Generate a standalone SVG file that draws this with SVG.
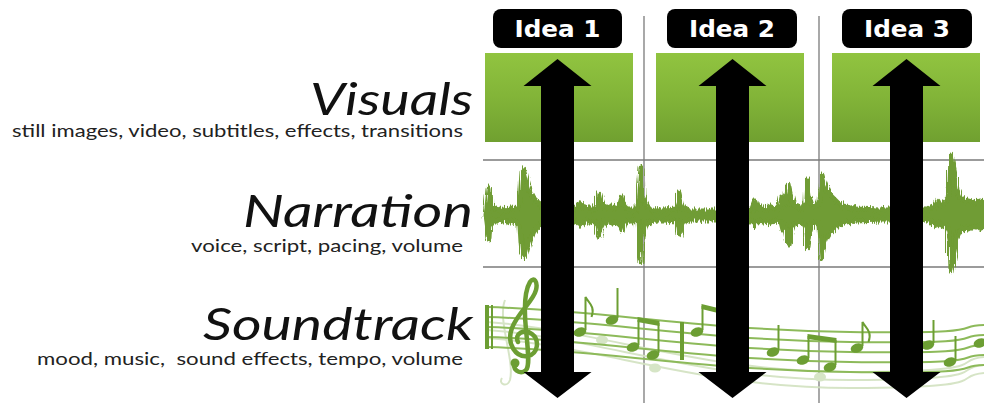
<svg xmlns="http://www.w3.org/2000/svg" width="984" height="403" viewBox="0 0 984 403">
<defs>
<linearGradient id="gbox" x1="0" y1="0" x2="0" y2="1">
<stop offset="0" stop-color="#91c440"/>
<stop offset="0.5" stop-color="#82b438"/>
<stop offset="1" stop-color="#70a030"/>
</linearGradient>
<filter id="rough" x="-0.02" y="-0.5" width="1.04" height="2">
<feTurbulence type="fractalNoise" baseFrequency="0.9 0.03" numOctaves="2" seed="3" result="n"/>
<feDisplacementMap in="SourceGraphic" in2="n" scale="9" xChannelSelector="B" yChannelSelector="G"/>
</filter>
<style>
.title{font-family:Lato,"Open Sans",sans-serif;font-style:italic;font-size:44px;fill:#111;}
.desc{font-family:Lato,"Open Sans",sans-serif;font-size:17px;fill:#222;}
.idea{fill:#000;}
.ideat{font-family:"DejaVu Sans",sans-serif;font-weight:bold;font-size:23px;fill:#fff;}
.grid{stroke:#7a7a7a;stroke-width:1.3;fill:none;}
.staff{stroke:#8dba5a;stroke-width:2;fill:none;}
.ghost{stroke:#d2e2c0;stroke-width:2;fill:none;}
.note{fill:#6c9e33;}
.stem{stroke:#6c9e33;stroke-width:2;fill:none;}
.arrow{fill:#000;}
</style>
</defs>
<rect width="984" height="403" fill="#fff"/>

<g id="grid">
<line class="grid" x1="483" y1="160" x2="984" y2="160"/>
<line class="grid" x1="483" y1="267" x2="984" y2="267"/>
<line class="grid" x1="644" y1="16" x2="644" y2="403"/>
<line class="grid" x1="819" y1="16" x2="819" y2="403"/>
</g>

<g id="visual-boxes">
<rect x="485" y="53" width="148" height="89" fill="url(#gbox)"/>
<rect x="656" y="53" width="148" height="89" fill="url(#gbox)"/>
<rect x="832" y="53" width="148" height="89" fill="url(#gbox)"/>
</g>

<g id="waveform" filter="url(#rough)">
<path fill="#6f9c34" stroke="#6f9c34" stroke-width="5" stroke-linejoin="round" d="M486,215 L487,207 489,188 490,209 494,208 498,210 502,209 506,210 510,208 514,209 518,207 520,205 521,187 522,172 524,170 526,178 528,185 530,191 533,197 536,201 539,203 541,205 574,209 578,206 580,203 582,208 586,208 590,207 594,209 597,205 599,193 601,201 604,207 608,208 612,206 616,208 620,204 622,197 624,205 628,209 632,209 636,210 638,207 640,181 641,168 642,195 645,201 648,207 652,209 656,210 664,210 676,209 678,203 679,193 681,203 684,209 690,211 716,211 750,210 752,209 755,201 757,207 762,208 766,209 770,206 772,207 775,209 780,207 782,197 784,205 786,201 789,185 791,195 794,205 798,206 800,209 803,207 806,201 807,180 809,195 812,205 815,207 818,206 820,201 822,175 824,183 827,190 830,195 834,199 838,203 842,205 846,207 856,209 880,210 925,210 928,209 932,207 936,205 938,201 940,205 944,203 948,199 950,185 951,155 953,165 955,175 957,190 960,197 964,200 968,201 972,202 976,203 980,201 984,203 L984,227 980,229 976,226 972,227 968,229 964,228 960,231 957,238 955,250 953,258 951,270 950,240 948,228 944,226 940,223 938,226 936,224 932,222 928,221 925,220 880,220 856,221 846,222 842,224 838,226 834,229 830,233 827,238 824,246 822,258 820,228 818,223 815,222 812,224 809,233 807,248 806,228 803,222 800,221 798,223 794,224 791,232 789,244 786,228 784,224 782,230 780,222 775,221 772,222 770,223 766,221 762,222 757,221 755,226 752,221 750,220 716,219 690,219 684,221 681,226 679,234 678,226 676,221 664,220 656,220 652,221 648,222 645,228 642,238 641,262 640,250 638,222 636,220 632,221 628,221 624,224 622,230 620,225 616,222 612,223 608,222 604,222 601,228 599,236 597,224 594,221 590,222 586,222 582,223 580,225 578,223 574,221 541,224 539,226 536,229 533,233 530,240 528,247 526,254 524,257 522,254 521,243 520,226 518,222 514,221 510,222 506,220 502,221 498,220 494,222 490,221 489,238 487,222 Z"/>
</g>

<g id="music">
<g class="ghost" opacity="0.9">
<path d="M487,322 C600,330 700,372 850,372 S950,360 984,357"/>
<path d="M487,330 C600,338 700,380 850,380 S950,368 984,365"/>
<path d="M487,338 C600,346 700,388 850,388 S950,376 984,373"/>
<path d="M505,300 c-8,20 10,60 5,80 c-3,8 -12,4 -8,-2"/>
</g>
<g fill="#d6e5c6">
<ellipse cx="602" cy="340" rx="6" ry="4.5"/>
<ellipse cx="655" cy="368" rx="6" ry="4.5"/>
<ellipse cx="820" cy="377" rx="6" ry="4.5"/>
</g>
<g class="staff">
<path d="M487,307 C600,310 700,330 850,332 S950,326 984,325"/>
<path d="M487,317 C600,320 700,340 850,342 S950,336 984,335"/>
<path d="M487,327 C600,330 700,350 850,352 S950,346 984,345"/>
<path d="M487,337 C600,340 700,360 850,362 S950,356 984,355"/>
<path d="M487,347 C600,350 700,370 850,372 S950,366 984,365"/>
</g>
<rect x="485" y="305" width="4" height="44" class="note"/>
<rect x="491" y="305" width="2" height="44" class="note"/>
<path d="M516,362 c-6,6 4,14 10,8 c4,-4 2,-20 0,-40 c-2,-20 -2,-38 4,-48 c4,-6 8,0 6,8 c-3,12 -18,22 -24,38 c-6,16 4,30 16,28 c10,-2 12,-16 4,-22 c-8,-6 -18,0 -14,8" fill="none" stroke="#6c9e33" stroke-width="4.5" stroke-linecap="round"/>
<circle cx="515" cy="363" r="4.5" class="note"/>
<g>
<ellipse class="note" cx="580" cy="332" rx="6.5" ry="4.5" transform="rotate(-20 580 332)"/>
<path class="stem" d="M585.5,330 V297 c3,6 10,9 6,20"/>
<ellipse class="note" cx="612" cy="320" rx="6.5" ry="4.5" transform="rotate(-20 612 320)"/>
<path class="stem" d="M617.5,318 V288"/>
<ellipse class="note" cx="633" cy="347" rx="6.5" ry="4.5" transform="rotate(-20 633 347)"/>
<path class="stem" d="M638.5,345 V320"/>
<ellipse class="note" cx="653" cy="355" rx="6.5" ry="4.5" transform="rotate(-20 653 355)"/>
<path class="stem" d="M658.5,353 V323"/>
<path d="M637.5,317 L659.5,321 L659.5,326 L637.5,322 Z" class="note"/>
<rect x="680" y="322" width="4" height="38" class="note"/>
<ellipse class="note" cx="697" cy="332" rx="6.5" ry="4.5" transform="rotate(-20 697 332)"/>
<path class="stem" d="M702.5,330 V306"/>
<path d="M701.5,304 L718,308 L718,313 L701.5,309 Z" class="note"/>
<ellipse class="note" cx="773" cy="352" rx="6.5" ry="4.5" transform="rotate(-20 773 352)"/>
<path class="stem" d="M778.5,350 V325"/>
<ellipse class="note" cx="803" cy="360" rx="6.5" ry="4.5" transform="rotate(-20 803 360)"/>
<path class="stem" d="M808.5,358 V336"/>
<ellipse class="note" cx="830" cy="367" rx="6.5" ry="4.5" transform="rotate(-20 830 367)"/>
<path class="stem" d="M835.5,365 V340"/>
<path d="M807.5,334 L836.5,338 L836.5,343 L807.5,339 Z" class="note"/>
<ellipse class="note" cx="857" cy="348" rx="6.5" ry="4.5" transform="rotate(-20 857 348)"/>
<path class="stem" d="M862.5,346 V322 c3,6 10,9 6,20"/>
<ellipse class="note" cx="928" cy="345" rx="6.5" ry="4.5" transform="rotate(-20 928 345)"/>
<path class="stem" d="M933.5,343 V320"/>
<ellipse class="note" cx="950" cy="362" rx="6.5" ry="4.5" transform="rotate(-20 950 362)"/>
<path class="stem" d="M955.5,360 V336"/>
<ellipse class="note" cx="980" cy="343" rx="6.5" ry="4.5" transform="rotate(-20 980 343)"/>
</g>
</g>

<g id="connectors">
<path class="arrow" d="M557.5,59 L591.5,86 L574,86 L574,372 L591.5,372 L557.5,398 L523.5,372 L541,372 L541,86 L523.5,86 Z"/>
<path class="arrow" d="M732.5,59 L766.5,86 L749,86 L749,372 L766.5,372 L732.5,398 L698.5,372 L716,372 L716,86 L698.5,86 Z"/>
<path class="arrow" d="M906.5,59 L940.5,86 L923,86 L923,372 L940.5,372 L906.5,398 L872.5,372 L890,372 L890,86 L872.5,86 Z"/>
</g>

<g id="idea1">
<rect class="idea" x="493" y="9" width="129" height="39" rx="8"/>
<text class="ideat" x="557.5" y="37" text-anchor="middle" textLength="86" lengthAdjust="spacingAndGlyphs">Idea 1</text>
</g>
<g id="idea2">
<rect class="idea" x="667" y="9" width="130" height="39" rx="8"/>
<text class="ideat" x="732" y="37" text-anchor="middle" textLength="86" lengthAdjust="spacingAndGlyphs">Idea 2</text>
</g>
<g id="idea3">
<rect class="idea" x="842" y="9" width="130" height="39" rx="8"/>
<text class="ideat" x="907" y="37" text-anchor="middle" textLength="86" lengthAdjust="spacingAndGlyphs">Idea 3</text>
</g>

<g id="visuals">
<text class="title" x="473" y="115" text-anchor="end" textLength="163" lengthAdjust="spacingAndGlyphs">Visuals</text>
<text class="desc" x="463" y="137" text-anchor="end" textLength="451" lengthAdjust="spacingAndGlyphs">still images, video, subtitles, effects, transitions</text>
</g>
<g id="narration">
<text class="title" x="473" y="227" text-anchor="end" textLength="230" lengthAdjust="spacingAndGlyphs">Narration</text>
<text class="desc" x="463" y="252" text-anchor="end" textLength="272" lengthAdjust="spacingAndGlyphs">voice, script, pacing, volume</text>
</g>
<g id="soundtrack">
<text class="title" x="473" y="340" text-anchor="end" textLength="270" lengthAdjust="spacingAndGlyphs">Soundtrack</text>
<text class="desc" x="463" y="365" text-anchor="end" textLength="426" lengthAdjust="spacingAndGlyphs" xml:space="preserve">mood, music,  sound effects, tempo, volume</text>
</g>
</svg>
